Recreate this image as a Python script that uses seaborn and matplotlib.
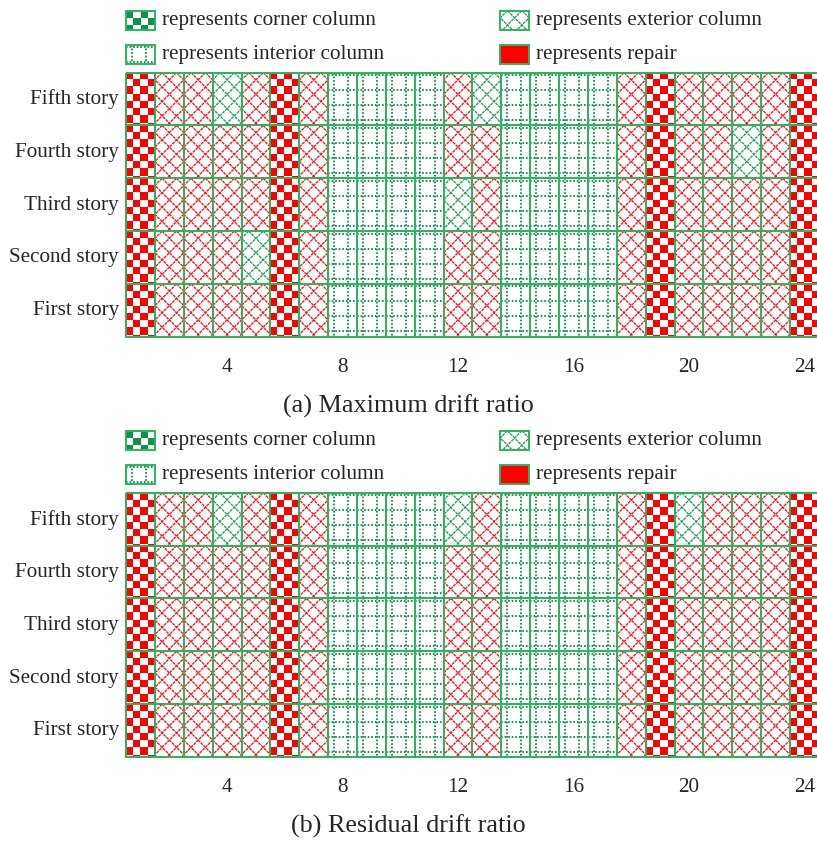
import numpy as np
import matplotlib
matplotlib.use('Agg')
import matplotlib.pyplot as plt
import seaborn as sns
from matplotlib.collections import LineCollection
from matplotlib.colors import ListedColormap
from matplotlib.patches import Rectangle

# ==========================================
# 1. DADOS
# ==========================================
# tipo de cada pilar (1..24): C = canto, E = externo, I = interno
tipo_pilar = ['C', 'E', 'E', 'E', 'E', 'C', 'E', 'I', 'I', 'I', 'I', 'E',
              'E', 'I', 'I', 'I', 'I', 'E', 'C', 'E', 'E', 'E', 'E', 'C']
andares = ['Fifth story', 'Fourth story', 'Third story', 'Second story', 'First story']
numeros_pilar = list(range(1, 25))
marcas_x = [4, 8, 12, 16, 20, 24]

# 1 = reparo, 0 = sem reparo  (a) deriva maxima
max_fifth  = [1, 1, 1, 0, 1, 1, 1, 0, 0, 0, 0, 1, 0, 0, 0, 0, 0, 1, 1, 1, 1, 1, 1, 1]
max_fourth = [1, 1, 1, 1, 1, 1, 1, 0, 0, 0, 0, 1, 1, 0, 0, 0, 0, 1, 1, 1, 1, 0, 1, 1]
max_third  = [1, 1, 1, 1, 1, 1, 1, 0, 0, 0, 0, 0, 1, 0, 0, 0, 0, 1, 1, 1, 1, 1, 1, 1]
max_second = [1, 1, 1, 1, 0, 1, 1, 0, 0, 0, 0, 1, 1, 0, 0, 0, 0, 1, 1, 1, 1, 1, 1, 1]
max_first  = [1, 1, 1, 1, 1, 1, 1, 0, 0, 0, 0, 1, 1, 0, 0, 0, 0, 1, 1, 1, 1, 1, 1, 1]

# (b) deriva residual
res_fifth  = [1, 1, 1, 0, 1, 1, 1, 0, 0, 0, 0, 0, 1, 0, 0, 0, 0, 1, 1, 0, 1, 1, 1, 1]
res_fourth = [1, 1, 1, 1, 1, 1, 1, 0, 0, 0, 0, 1, 1, 0, 0, 0, 0, 1, 1, 1, 1, 1, 1, 1]
res_third  = [1, 1, 1, 1, 1, 1, 1, 0, 0, 0, 0, 1, 1, 0, 0, 0, 0, 1, 1, 1, 1, 1, 1, 1]
res_second = [1, 1, 1, 1, 1, 1, 1, 0, 0, 0, 0, 1, 1, 0, 0, 0, 0, 1, 1, 1, 1, 1, 1, 1]
res_first  = [1, 1, 1, 1, 1, 1, 1, 0, 0, 0, 0, 1, 1, 0, 0, 0, 0, 1, 1, 1, 1, 1, 1, 1]

legenda_textos = ['represents corner column', 'represents exterior column',
                  'represents interior column', 'represents repair']
titulos = ['(a) Maximum drift ratio', '(b) Residual drift ratio']

# ==========================================
# 2. ESTILO
# ==========================================
sns.set_style('white')
plt.rcParams['font.family'] = ['Liberation Serif', 'DejaVu Serif']

VERMELHO = '#ff0000'
VERDE_BORDA = '#2bb55e'
VERDE_TEXTURA = '#0c9444'
VERDE_EXT = '#17964a'
W, H, DPI = 817, 841, 100
FONTE = 15.2


def textura(ax, tipo, cor, x0, y0, w, h, sx, sy, z=2):
    """Desenha a textura do tipo de pilar dentro do retangulo (x0, y0, w, h).
    y cresce para baixo (eixos invertidos); sx, sy = pixels por unidade."""
    clip = Rectangle((x0, y0), w, h, transform=ax.transData)
    wp, hp = w * sx, h * sy
    if tipo == 'C':
        lado = 7.2
        nc = int(np.ceil(wp / lado))
        nl = int(np.ceil(hp / lado))
        xadrez = (np.add.outer(np.arange(nl), np.arange(nc)) % 2 == 0).astype(int)
        im = ax.imshow(xadrez, cmap=ListedColormap(['white', cor]), vmin=0, vmax=1,
                       interpolation='nearest', aspect='auto', origin='upper',
                       extent=(x0, x0 + nc * lado / sx, y0 + nl * lado / sy, y0),
                       zorder=z)
        im.set_clip_path(clip)
    elif tipo == 'E':
        passo = 14.4
        segs = []
        ks = np.arange(-int(hp / passo) - 2, int((wp + hp) / passo) + 3)
        for c in passo / 2 + passo * ks:
            segs.append([(x0 + c / sx, y0), (x0 + (c + hp) / sx, y0 + h)])
            segs.append([(x0 + c / sx, y0), (x0 + (c - hp) / sx, y0 + h)])
        lc = LineCollection(segs, colors=cor, linewidths=1.0, alpha=0.9,
                            linestyles=[(0, (2.2, 0.6))], zorder=z)
        ax.add_collection(lc, autolim=False)
        lc.set_clip_path(clip)
    elif tipo == 'I':
        segs = []
        for px in np.arange(5.7, wp, 14.4):
            segs.append([(x0 + px / sx, y0), (x0 + px / sx, y0 + h)])
        for py in np.arange(2.5, hp, 15.0):
            segs.append([(x0, y0 + py / sy), (x0 + w, y0 + py / sy)])
        lc = LineCollection(segs, colors=cor, linewidths=1.35,
                            linestyles=[(0, (0.9, 1.0))], zorder=z)
        ax.add_collection(lc, autolim=False)
        lc.set_clip_path(clip)
    elif tipo == 'R':
        ax.add_patch(Rectangle((x0, y0), w, h, facecolor=cor, edgecolor='none', zorder=z))


fig = plt.figure(figsize=((W + 0.4) / DPI, (H + 0.4) / DPI), dpi=DPI)

paineis = [
    [max_fifth, max_fourth, max_third, max_second, max_first],
    [res_fifth, res_fourth, res_third, res_second, res_first],
]
topos = [73, 493]          # topo da grade em pixels
altura_grade = 264
esq_grade = 126
dir_grade = 818.5          # a borda direita fica cortada, como no original

for painel, topo in zip(paineis, topos):
    reparo = np.array(painel)
    ax = fig.add_axes([esq_grade / W, 1 - (topo + altura_grade) / H,
                       (dir_grade - esq_grade) / W, altura_grade / H])
    rot_x = [str(n) if n in marcas_x else '' for n in numeros_pilar]
    sns.heatmap(reparo, ax=ax, cbar=False,
                cmap=ListedColormap([(1, 1, 1, 0), (1, 1, 1, 0)]),
                linewidths=1.4, linecolor=VERDE_BORDA,
                xticklabels=rot_x, yticklabels=andares)
    ax.collections[0].set_zorder(5)
    ax.collections[0].set_clip_on(False)

    sx = (dir_grade - esq_grade) / 24
    sy = altura_grade / 5
    for r in range(5):
        for i in range(24):
            if reparo[r, i] == 1:
                cor = VERMELHO
            else:
                cor = VERDE_TEXTURA if tipo_pilar[i] == 'I' else VERDE_EXT
            textura(ax, tipo_pilar[i], cor, i, r, 1, 1, sx, sy)

    ax.set_xlim(0, 24)
    ax.set_ylim(5, 0)
    ax.tick_params(axis='both', length=0, labelsize=FONTE)
    ax.tick_params(axis='x', pad=15)
    ax.tick_params(axis='y', pad=5)
    plt.setp(ax.get_yticklabels(), rotation=0, va='center')
    plt.setp(ax.get_xticklabels(), rotation=0)

# ==========================================
# 3. LEGENDAS E TITULOS (camada em pixels)
# ==========================================
sobre = fig.add_axes([0, 0, 1, 1])
sobre.set_xlim(0, W)
sobre.set_ylim(H, 0)
sobre.axis('off')

amostras = [('C', VERDE_TEXTURA), ('E', VERDE_EXT), ('I', VERDE_TEXTURA), ('R', VERMELHO)]
pos_amostra = [(126, 0), (500, 0), (126, 1), (500, 1)]
for k, topo in enumerate(topos):
    base_leg = topo - 62
    for (tipo, cor), (xs, lin), texto in zip(amostras, pos_amostra, legenda_textos):
        ys = base_leg + lin * 34
        textura(sobre, tipo, cor, xs, ys, 29, 19, 1, 1, z=3)
        sobre.add_patch(Rectangle((xs, ys), 29, 19, facecolor='none',
                                  edgecolor=VERDE_BORDA, linewidth=1.4, zorder=4))
        sobre.text(xs + 36, ys + 9.5, texto, fontsize=FONTE, ha='left', va='center')
    sobre.text(408, topo + altura_grade + 69, titulos[k], fontsize=18.8,
               ha='center', va='center')

fig.savefig('out.png', dpi=DPI)
plt.close()
